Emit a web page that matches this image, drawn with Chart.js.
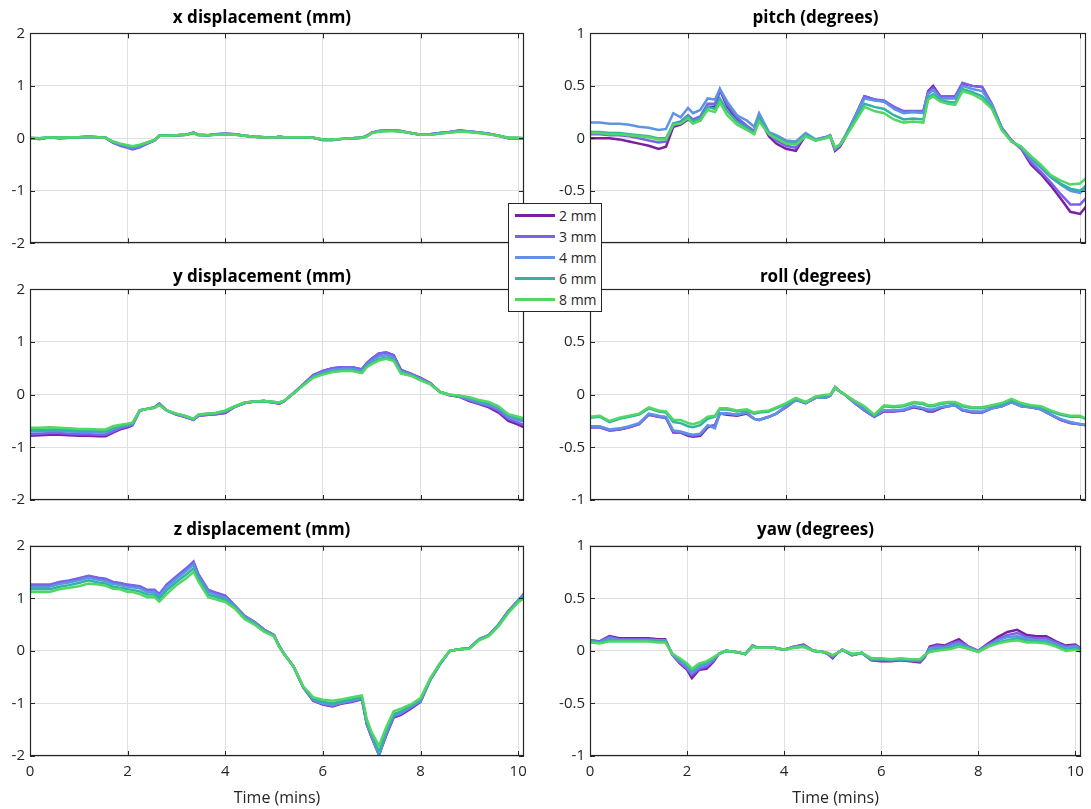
<!DOCTYPE html>
<html>
<head>
<meta charset="utf-8">
<script src="https://cdn.jsdelivr.net/npm/chart.js@4.4.1/dist/chart.umd.min.js"></script>
<style>
  html, body { margin: 0; padding: 0; background: #fff; }
  body { width: 1091px; height: 809px; position: relative; overflow: hidden; font-family: "Open Sans", sans-serif; }
  canvas { position: absolute; }
  #legend { position: absolute; left: 508px; top: 203px; width: 94px; height: 109px; box-sizing: border-box;
            border: 1px solid #262626; background: #fff; z-index: 5; padding-top: 1px; }
  #legend .row { position: relative; height: 21px; }
  #legend .sw { position: absolute; left: 6px; top: 9px; width: 40px; height: 2.5px; }
  #legend .tx { position: absolute; left: 50px; top: 0; line-height: 21px; font-size: 14px; color: #262626; white-space: nowrap; }
</style>
</head>
<body>
<canvas id="cX" width="540" height="260" style="left:0;top:0"></canvas>
<canvas id="cPitch" width="546" height="260" style="left:545px;top:0"></canvas>
<canvas id="cY" width="540" height="260" style="left:0;top:256px"></canvas>
<canvas id="cRoll" width="546" height="260" style="left:545px;top:256px"></canvas>
<canvas id="cZ" width="540" height="297" style="left:0;top:512px"></canvas>
<canvas id="cYaw" width="546" height="297" style="left:545px;top:512px"></canvas>
<div id="legend"></div>
<script>
// time axis (minutes)
const timeMins = [
  0, 0.2, 0.4, 0.6, 0.8, 1.0, 1.2, 1.4, 1.55, 1.7,
  1.85, 2.0, 2.1, 2.25, 2.4, 2.55, 2.65, 2.8, 3.0, 3.2,
  3.35, 3.45, 3.65, 3.8, 4.0, 4.2, 4.4, 4.6, 4.8, 4.9,
  5.0, 5.1, 5.2, 5.4, 5.6, 5.8, 6.0, 6.2, 6.4, 6.6,
  6.8, 6.9, 7.0, 7.15, 7.3, 7.45, 7.6, 7.8, 8.0, 8.2,
  8.4, 8.6, 8.8, 9.0, 9.2, 9.4, 9.6, 9.8, 10.0, 10.12
];
const seriesNames = ['2 mm', '3 mm', '4 mm', '6 mm', '8 mm'];
const seriesColors = ['#7b1fa2', '#7a62ea', '#5f93e4', '#2db4a3', '#52d765'];
const xTicks = [0, 2, 4, 6, 8, 10];
const mmTicks = [-2, -1, 0, 1, 2];
const degTicks = [-1, -0.5, 0, 0.5, 1];

// x displacement (mm)
const xDisp_2 = [
  0.00, -0.01, 0.02, 0.00, 0.01, 0.02, 0.03, 0.02, 0.01, -0.08,
  -0.13, -0.17, -0.20, -0.16, -0.10, -0.04, 0.05, 0.05, 0.06, 0.07,
  0.11, 0.07, 0.06, 0.08, 0.09, 0.08, 0.05, 0.03, 0.02, 0.01,
  0.01, 0.03, 0.02, 0.02, 0.02, 0.01, -0.03, -0.03, -0.01, 0.00,
  0.01, 0.05, 0.11, 0.14, 0.15, 0.15, 0.14, 0.10, 0.07, 0.08,
  0.10, 0.12, 0.15, 0.13, 0.11, 0.09, 0.05, 0.00, 0.00, -0.01];
const xDisp_3 = [
  0.00, -0.01, 0.02, 0.00, 0.01, 0.02, 0.03, 0.02, 0.01, -0.08,
  -0.14, -0.18, -0.21, -0.17, -0.10, -0.04, 0.05, 0.05, 0.06, 0.07,
  0.11, 0.07, 0.06, 0.08, 0.09, 0.08, 0.05, 0.03, 0.02, 0.01,
  0.01, 0.03, 0.02, 0.02, 0.02, 0.01, -0.03, -0.03, -0.01, 0.00,
  0.01, 0.05, 0.11, 0.14, 0.15, 0.15, 0.14, 0.10, 0.07, 0.08,
  0.10, 0.12, 0.15, 0.13, 0.11, 0.09, 0.05, 0.00, 0.00, -0.01];
const xDisp_4 = [
  0.00, 0.00, 0.02, 0.01, 0.01, 0.02, 0.03, 0.02, 0.01, -0.07,
  -0.12, -0.16, -0.18, -0.15, -0.09, -0.04, 0.05, 0.05, 0.06, 0.07,
  0.10, 0.07, 0.06, 0.08, 0.09, 0.08, 0.05, 0.03, 0.02, 0.01,
  0.01, 0.03, 0.02, 0.02, 0.02, 0.01, -0.02, -0.02, -0.01, 0.00,
  0.01, 0.05, 0.10, 0.14, 0.14, 0.15, 0.13, 0.10, 0.07, 0.08,
  0.10, 0.12, 0.14, 0.13, 0.11, 0.09, 0.05, 0.01, 0.00, -0.01];
const xDisp_6 = [
  0.01, 0.00, 0.02, 0.01, 0.02, 0.02, 0.03, 0.02, 0.01, -0.06,
  -0.11, -0.14, -0.16, -0.13, -0.08, -0.03, 0.05, 0.05, 0.06, 0.07,
  0.10, 0.06, 0.06, 0.07, 0.08, 0.07, 0.05, 0.03, 0.02, 0.01,
  0.01, 0.03, 0.02, 0.02, 0.02, 0.01, -0.02, -0.02, -0.01, 0.00,
  0.01, 0.04, 0.10, 0.13, 0.14, 0.14, 0.13, 0.10, 0.07, 0.07,
  0.09, 0.11, 0.13, 0.12, 0.10, 0.08, 0.05, 0.01, 0.01, 0.00];
const xDisp_8 = [
  0.01, 0.00, 0.02, 0.01, 0.02, 0.02, 0.03, 0.02, 0.01, -0.06,
  -0.10, -0.13, -0.15, -0.12, -0.08, -0.03, 0.05, 0.05, 0.06, 0.07,
  0.10, 0.06, 0.06, 0.07, 0.08, 0.07, 0.05, 0.03, 0.02, 0.01,
  0.01, 0.03, 0.02, 0.02, 0.02, 0.01, -0.02, -0.02, -0.01, 0.00,
  0.01, 0.04, 0.10, 0.13, 0.14, 0.14, 0.13, 0.10, 0.07, 0.07,
  0.09, 0.11, 0.13, 0.12, 0.10, 0.08, 0.05, 0.01, 0.01, 0.00];

// y displacement (mm)
const yDisp_2 = [
  -0.78, -0.77, -0.76, -0.76, -0.77, -0.78, -0.78, -0.79, -0.79, -0.72,
  -0.66, -0.62, -0.58, -0.30, -0.27, -0.24, -0.17, -0.30, -0.38, -0.43,
  -0.48, -0.40, -0.38, -0.37, -0.35, -0.23, -0.16, -0.13, -0.12, -0.14,
  -0.15, -0.17, -0.13, 0.03, 0.20, 0.37, 0.45, 0.50, 0.52, 0.52,
  0.48, 0.60, 0.68, 0.78, 0.80, 0.75, 0.47, 0.40, 0.32, 0.22,
  0.05, -0.01, -0.04, -0.12, -0.18, -0.24, -0.34, -0.50, -0.57, -0.62];
const yDisp_3 = [
  -0.75, -0.74, -0.73, -0.73, -0.74, -0.75, -0.75, -0.76, -0.76, -0.70,
  -0.64, -0.60, -0.57, -0.30, -0.27, -0.24, -0.17, -0.30, -0.38, -0.43,
  -0.48, -0.40, -0.38, -0.37, -0.34, -0.23, -0.16, -0.13, -0.12, -0.14,
  -0.15, -0.17, -0.13, 0.03, 0.20, 0.36, 0.45, 0.50, 0.52, 0.52,
  0.48, 0.60, 0.68, 0.78, 0.80, 0.75, 0.46, 0.40, 0.31, 0.21,
  0.05, -0.01, -0.04, -0.11, -0.17, -0.22, -0.31, -0.46, -0.53, -0.58];
const yDisp_4 = [
  -0.70, -0.70, -0.69, -0.69, -0.70, -0.71, -0.71, -0.72, -0.72, -0.66,
  -0.61, -0.58, -0.56, -0.30, -0.27, -0.25, -0.18, -0.30, -0.37, -0.42,
  -0.47, -0.39, -0.37, -0.36, -0.32, -0.23, -0.15, -0.13, -0.12, -0.13,
  -0.14, -0.16, -0.13, 0.03, 0.19, 0.35, 0.42, 0.47, 0.49, 0.49,
  0.45, 0.57, 0.64, 0.73, 0.75, 0.70, 0.44, 0.38, 0.30, 0.21,
  0.05, 0.00, -0.03, -0.09, -0.15, -0.19, -0.27, -0.42, -0.48, -0.51];
const yDisp_6 = [
  -0.67, -0.67, -0.66, -0.66, -0.67, -0.68, -0.68, -0.69, -0.69, -0.63,
  -0.59, -0.56, -0.54, -0.30, -0.27, -0.25, -0.19, -0.30, -0.36, -0.41,
  -0.46, -0.38, -0.36, -0.35, -0.31, -0.22, -0.15, -0.13, -0.12, -0.13,
  -0.14, -0.15, -0.12, 0.02, 0.18, 0.33, 0.40, 0.44, 0.46, 0.46,
  0.42, 0.54, 0.60, 0.68, 0.70, 0.66, 0.41, 0.37, 0.28, 0.20,
  0.05, 0.00, -0.02, -0.06, -0.12, -0.16, -0.24, -0.39, -0.44, -0.47];
const yDisp_8 = [
  -0.63, -0.63, -0.62, -0.63, -0.64, -0.65, -0.65, -0.66, -0.66, -0.60,
  -0.57, -0.55, -0.53, -0.30, -0.27, -0.25, -0.20, -0.30, -0.36, -0.41,
  -0.46, -0.38, -0.36, -0.35, -0.30, -0.22, -0.15, -0.13, -0.12, -0.13,
  -0.14, -0.15, -0.12, 0.02, 0.18, 0.32, 0.38, 0.43, 0.45, 0.45,
  0.41, 0.52, 0.58, 0.65, 0.68, 0.64, 0.40, 0.36, 0.27, 0.20,
  0.05, 0.00, -0.02, -0.05, -0.10, -0.14, -0.22, -0.37, -0.42, -0.45];

// z displacement (mm)
const zDisp_2 = [
  1.25, 1.25, 1.25, 1.30, 1.33, 1.37, 1.42, 1.38, 1.36, 1.30,
  1.28, 1.25, 1.24, 1.22, 1.15, 1.15, 1.07, 1.25, 1.40, 1.55,
  1.68, 1.45, 1.15, 1.10, 1.04, 0.85, 0.66, 0.55, 0.40, 0.35,
  0.30, 0.10, -0.05, -0.30, -0.70, -0.95, -1.02, -1.06, -1.00, -0.97,
  -0.92, -1.40, -1.65, -1.98, -1.60, -1.27, -1.22, -1.10, -0.97, -0.55,
  -0.25, 0.00, 0.03, 0.05, 0.22, 0.30, 0.50, 0.75, 0.95, 1.08];
const zDisp_3 = [
  1.26, 1.26, 1.26, 1.31, 1.34, 1.38, 1.43, 1.39, 1.37, 1.31,
  1.29, 1.26, 1.25, 1.23, 1.16, 1.16, 1.08, 1.26, 1.42, 1.57,
  1.70, 1.46, 1.16, 1.11, 1.05, 0.86, 0.66, 0.55, 0.40, 0.35,
  0.30, 0.10, -0.05, -0.30, -0.70, -0.94, -1.01, -1.05, -0.99, -0.96,
  -0.91, -1.40, -1.64, -1.97, -1.58, -1.25, -1.20, -1.08, -0.96, -0.55,
  -0.25, 0.00, 0.03, 0.05, 0.22, 0.30, 0.50, 0.76, 0.96, 1.09];
const zDisp_4 = [
  1.22, 1.22, 1.22, 1.27, 1.30, 1.34, 1.39, 1.35, 1.33, 1.27,
  1.25, 1.22, 1.21, 1.19, 1.12, 1.12, 1.04, 1.21, 1.37, 1.52,
  1.64, 1.41, 1.12, 1.07, 1.01, 0.84, 0.65, 0.54, 0.39, 0.34,
  0.29, 0.10, -0.05, -0.30, -0.70, -0.93, -1.00, -1.03, -0.98, -0.95,
  -0.90, -1.38, -1.62, -1.98, -1.56, -1.23, -1.18, -1.06, -0.95, -0.55,
  -0.25, 0.00, 0.03, 0.05, 0.22, 0.30, 0.50, 0.75, 0.95, 1.07];
const zDisp_6 = [
  1.17, 1.17, 1.17, 1.22, 1.25, 1.29, 1.34, 1.30, 1.28, 1.22,
  1.20, 1.17, 1.16, 1.13, 1.07, 1.07, 0.99, 1.15, 1.31, 1.45,
  1.57, 1.37, 1.07, 1.03, 0.97, 0.82, 0.62, 0.52, 0.37, 0.33,
  0.28, 0.09, -0.05, -0.30, -0.69, -0.91, -0.97, -1.00, -0.95, -0.92,
  -0.88, -1.35, -1.60, -1.92, -1.52, -1.20, -1.15, -1.04, -0.93, -0.54,
  -0.24, 0.00, 0.03, 0.05, 0.21, 0.29, 0.49, 0.74, 0.94, 1.05];
const zDisp_8 = [
  1.12, 1.12, 1.12, 1.17, 1.20, 1.23, 1.28, 1.26, 1.24, 1.18,
  1.17, 1.12, 1.12, 1.08, 1.02, 1.02, 0.94, 1.08, 1.25, 1.38,
  1.50, 1.32, 1.02, 0.98, 0.93, 0.80, 0.60, 0.50, 0.36, 0.32,
  0.28, 0.08, -0.05, -0.30, -0.68, -0.88, -0.93, -0.95, -0.92, -0.88,
  -0.85, -1.30, -1.55, -1.80, -1.45, -1.15, -1.10, -1.02, -0.90, -0.52,
  -0.23, 0.00, 0.03, 0.04, 0.20, 0.28, 0.47, 0.72, 0.92, 1.00];

// pitch (degrees)
const pitch_2 = [
  0.00, 0.00, 0.00, -0.01, -0.03, -0.05, -0.07, -0.10, -0.08, 0.11,
  0.13, 0.18, 0.15, 0.17, 0.30, 0.30, 0.46, 0.30, 0.18, 0.10,
  0.05, 0.20, 0.02, -0.05, -0.10, -0.12, 0.03, -0.02, 0.01, 0.02,
  -0.12, -0.08, 0.00, 0.20, 0.40, 0.37, 0.35, 0.30, 0.25, 0.25,
  0.25, 0.45, 0.50, 0.40, 0.40, 0.40, 0.52, 0.50, 0.49, 0.32,
  0.10, -0.02, -0.10, -0.25, -0.34, -0.45, -0.57, -0.70, -0.72, -0.65];
const pitch_3 = [
  0.04, 0.04, 0.03, 0.03, 0.02, 0.00, -0.02, -0.04, -0.03, 0.14,
  0.16, 0.22, 0.18, 0.21, 0.33, 0.33, 0.47, 0.32, 0.20, 0.12,
  0.07, 0.22, 0.04, -0.02, -0.07, -0.09, 0.04, -0.01, 0.01, 0.03,
  -0.11, -0.07, 0.01, 0.20, 0.40, 0.37, 0.36, 0.30, 0.26, 0.26,
  0.26, 0.44, 0.48, 0.40, 0.40, 0.40, 0.53, 0.50, 0.49, 0.33,
  0.10, -0.02, -0.10, -0.23, -0.32, -0.42, -0.53, -0.63, -0.63, -0.57];
const pitch_4 = [
  0.15, 0.15, 0.14, 0.14, 0.13, 0.11, 0.10, 0.08, 0.09, 0.24,
  0.20, 0.29, 0.24, 0.27, 0.38, 0.37, 0.47, 0.35, 0.22, 0.17,
  0.11, 0.24, 0.06, 0.03, -0.02, -0.03, 0.05, -0.01, 0.01, 0.03,
  -0.10, -0.06, 0.02, 0.20, 0.38, 0.36, 0.35, 0.28, 0.24, 0.25,
  0.24, 0.42, 0.46, 0.38, 0.38, 0.38, 0.50, 0.47, 0.45, 0.32,
  0.10, -0.03, -0.09, -0.20, -0.28, -0.37, -0.44, -0.50, -0.52, -0.47];
const pitch_6 = [
  0.06, 0.06, 0.05, 0.05, 0.04, 0.03, 0.02, 0.00, 0.00, 0.14,
  0.15, 0.21, 0.16, 0.19, 0.30, 0.28, 0.38, 0.26, 0.16, 0.10,
  0.05, 0.19, 0.05, 0.01, -0.04, -0.05, 0.03, -0.02, 0.00, 0.02,
  -0.09, -0.06, 0.01, 0.17, 0.33, 0.30, 0.28, 0.22, 0.18, 0.19,
  0.18, 0.39, 0.42, 0.36, 0.35, 0.34, 0.47, 0.44, 0.40, 0.30,
  0.09, -0.03, -0.08, -0.18, -0.26, -0.36, -0.43, -0.48, -0.50, -0.45];
const pitch_8 = [
  0.05, 0.05, 0.04, 0.04, 0.03, 0.02, 0.01, -0.01, -0.01, 0.13,
  0.14, 0.19, 0.14, 0.17, 0.27, 0.25, 0.34, 0.22, 0.13, 0.08,
  0.04, 0.16, 0.04, 0.00, -0.05, -0.06, 0.02, -0.02, 0.00, 0.02,
  -0.09, -0.06, 0.00, 0.15, 0.30, 0.26, 0.24, 0.18, 0.15, 0.16,
  0.15, 0.37, 0.40, 0.35, 0.33, 0.32, 0.45, 0.42, 0.37, 0.28,
  0.08, -0.03, -0.08, -0.17, -0.25, -0.35, -0.40, -0.44, -0.43, -0.38];

// roll (degrees)
const roll_2 = [
  -0.31, -0.31, -0.34, -0.33, -0.31, -0.28, -0.19, -0.21, -0.22, -0.36,
  -0.36, -0.39, -0.40, -0.39, -0.31, -0.29, -0.18, -0.19, -0.20, -0.18,
  -0.23, -0.24, -0.21, -0.18, -0.12, -0.05, -0.08, -0.03, -0.03, -0.01,
  0.07, 0.03, 0.00, -0.08, -0.15, -0.21, -0.16, -0.16, -0.15, -0.12,
  -0.14, -0.16, -0.16, -0.13, -0.11, -0.10, -0.15, -0.17, -0.17, -0.13,
  -0.11, -0.07, -0.11, -0.12, -0.14, -0.19, -0.24, -0.27, -0.28, -0.29];
const roll_3 = [
  -0.31, -0.31, -0.34, -0.33, -0.31, -0.28, -0.19, -0.21, -0.22, -0.35,
  -0.36, -0.38, -0.39, -0.38, -0.30, -0.29, -0.18, -0.18, -0.19, -0.17,
  -0.23, -0.24, -0.21, -0.18, -0.11, -0.05, -0.08, -0.03, -0.03, -0.01,
  0.07, 0.03, 0.00, -0.08, -0.15, -0.21, -0.15, -0.15, -0.15, -0.11,
  -0.13, -0.15, -0.15, -0.12, -0.11, -0.10, -0.15, -0.16, -0.17, -0.13,
  -0.11, -0.07, -0.11, -0.12, -0.14, -0.19, -0.24, -0.27, -0.28, -0.29];
const roll_4 = [
  -0.30, -0.30, -0.33, -0.32, -0.30, -0.27, -0.18, -0.20, -0.21, -0.34,
  -0.35, -0.37, -0.38, -0.37, -0.29, -0.32, -0.18, -0.18, -0.19, -0.17,
  -0.23, -0.24, -0.21, -0.18, -0.11, -0.05, -0.08, -0.03, -0.03, -0.01,
  0.06, 0.03, 0.00, -0.08, -0.14, -0.20, -0.15, -0.15, -0.14, -0.11,
  -0.13, -0.14, -0.14, -0.12, -0.11, -0.10, -0.14, -0.16, -0.16, -0.13,
  -0.11, -0.07, -0.11, -0.12, -0.14, -0.19, -0.23, -0.26, -0.28, -0.29];
const roll_6 = [
  -0.22, -0.21, -0.26, -0.23, -0.21, -0.19, -0.13, -0.16, -0.17, -0.26,
  -0.27, -0.30, -0.31, -0.29, -0.23, -0.21, -0.14, -0.14, -0.16, -0.15,
  -0.18, -0.17, -0.16, -0.13, -0.09, -0.04, -0.07, -0.02, -0.01, 0.00,
  0.07, 0.03, 0.00, -0.06, -0.12, -0.20, -0.11, -0.12, -0.11, -0.08,
  -0.09, -0.11, -0.11, -0.09, -0.08, -0.08, -0.11, -0.13, -0.13, -0.11,
  -0.09, -0.05, -0.09, -0.11, -0.12, -0.16, -0.19, -0.21, -0.21, -0.23];
const roll_8 = [
  -0.21, -0.20, -0.25, -0.22, -0.20, -0.18, -0.12, -0.15, -0.16, -0.24,
  -0.24, -0.27, -0.28, -0.26, -0.21, -0.20, -0.13, -0.13, -0.15, -0.14,
  -0.17, -0.16, -0.15, -0.12, -0.08, -0.03, -0.07, -0.02, 0.00, 0.00,
  0.07, 0.03, 0.00, -0.06, -0.11, -0.19, -0.10, -0.11, -0.10, -0.07,
  -0.08, -0.10, -0.10, -0.08, -0.07, -0.07, -0.10, -0.12, -0.12, -0.10,
  -0.08, -0.04, -0.08, -0.10, -0.11, -0.15, -0.18, -0.20, -0.20, -0.23];

// yaw (degrees)
const yaw_2 = [
  0.10, 0.09, 0.14, 0.12, 0.12, 0.12, 0.12, 0.11, 0.11, -0.04,
  -0.12, -0.18, -0.26, -0.18, -0.17, -0.10, -0.03, 0.00, -0.01, -0.03,
  0.05, 0.03, 0.03, 0.03, 0.01, 0.04, 0.06, 0.00, -0.01, -0.03,
  -0.07, -0.02, 0.01, -0.04, -0.02, -0.09, -0.10, -0.10, -0.09, -0.10,
  -0.11, -0.06, 0.04, 0.06, 0.05, 0.08, 0.11, 0.04, 0.00, 0.07,
  0.13, 0.18, 0.20, 0.15, 0.14, 0.14, 0.09, 0.05, 0.06, 0.02];
const yaw_3 = [
  0.10, 0.09, 0.13, 0.11, 0.11, 0.11, 0.11, 0.10, 0.10, -0.04,
  -0.11, -0.17, -0.23, -0.17, -0.15, -0.09, -0.03, 0.00, -0.01, -0.03,
  0.05, 0.03, 0.03, 0.03, 0.01, 0.04, 0.05, 0.00, -0.01, -0.03,
  -0.06, -0.02, 0.01, -0.04, -0.02, -0.09, -0.09, -0.09, -0.09, -0.09,
  -0.10, -0.05, 0.03, 0.05, 0.04, 0.07, 0.09, 0.04, 0.00, 0.06,
  0.11, 0.15, 0.17, 0.13, 0.12, 0.12, 0.08, 0.04, 0.05, 0.02];
const yaw_4 = [
  0.09, 0.08, 0.12, 0.10, 0.10, 0.10, 0.10, 0.10, 0.10, -0.04,
  -0.10, -0.15, -0.21, -0.15, -0.13, -0.08, -0.03, 0.00, -0.01, -0.03,
  0.05, 0.03, 0.03, 0.03, 0.01, 0.04, 0.05, 0.00, -0.01, -0.03,
  -0.05, -0.02, 0.01, -0.04, -0.02, -0.08, -0.08, -0.09, -0.08, -0.09,
  -0.09, -0.05, 0.02, 0.03, 0.03, 0.05, 0.07, 0.03, 0.00, 0.05,
  0.10, 0.13, 0.14, 0.11, 0.10, 0.10, 0.06, 0.03, 0.04, 0.01];
const yaw_6 = [
  0.09, 0.08, 0.10, 0.10, 0.10, 0.10, 0.10, 0.09, 0.09, -0.03,
  -0.08, -0.13, -0.19, -0.13, -0.11, -0.07, -0.03, 0.00, -0.01, -0.03,
  0.04, 0.03, 0.03, 0.03, 0.01, 0.03, 0.04, 0.00, -0.01, -0.02,
  -0.05, -0.02, 0.01, -0.03, -0.02, -0.08, -0.08, -0.08, -0.08, -0.08,
  -0.09, -0.04, 0.00, 0.01, 0.02, 0.03, 0.05, 0.02, -0.01, 0.04,
  0.08, 0.10, 0.12, 0.10, 0.09, 0.08, 0.05, 0.01, 0.02, 0.00];
const yaw_8 = [
  0.08, 0.07, 0.09, 0.09, 0.09, 0.09, 0.09, 0.08, 0.08, -0.03,
  -0.07, -0.12, -0.17, -0.12, -0.10, -0.06, -0.03, 0.00, -0.01, -0.03,
  0.04, 0.03, 0.03, 0.03, 0.01, 0.03, 0.04, 0.00, -0.01, -0.02,
  -0.04, -0.02, 0.01, -0.03, -0.02, -0.07, -0.07, -0.08, -0.07, -0.08,
  -0.08, -0.04, -0.01, 0.00, 0.01, 0.02, 0.04, 0.02, -0.01, 0.04,
  0.07, 0.09, 0.10, 0.08, 0.08, 0.07, 0.04, 0.00, 0.01, -0.01];

const TICK_COLOR = '#262626';
const GRID_COLOR = '#dfdfdf';
const FONT = '"Open Sans", "Noto Sans", sans-serif';

// MATLAB-style box with inward tick marks
const boxPlugin = {
  id: 'axesBox',
  afterDatasetsDraw(chart) {
    const { ctx, chartArea: a, scales } = chart;
    ctx.save();
    ctx.strokeStyle = TICK_COLOR;
    ctx.lineWidth = 1;
    ctx.beginPath();
    scales.x.ticks.forEach(t => {
      const px = Math.round(scales.x.getPixelForValue(t.value)) + 0.5;
      ctx.moveTo(px, a.top); ctx.lineTo(px, a.top + 5);
      ctx.moveTo(px, a.bottom); ctx.lineTo(px, a.bottom - 5);
    });
    scales.y.ticks.forEach(t => {
      const py = Math.round(scales.y.getPixelForValue(t.value)) + 0.5;
      ctx.moveTo(a.left, py); ctx.lineTo(a.left + 5, py);
      ctx.moveTo(a.right, py); ctx.lineTo(a.right - 5, py);
    });
    ctx.stroke();
    ctx.lineWidth = 1.2;
    ctx.strokeRect(Math.round(a.left) + 0.5, Math.round(a.top) + 0.5,
                   Math.round(a.width) - 1, Math.round(a.height) - 1);
    ctx.restore();
  }
};

function makePanel(id, title, series, yTicks, col, row) {
  const yw = col === 0 ? 30 : 45;
  const padRight = col === 0 ? 16 : 5;
  const titlePad = [{ top: 8, bottom: 5 }, { top: 10.5, bottom: 2.4 }, { top: 7.8, bottom: 5.5 }][row];
  const xh = [16.7, 16, 53][row];
  const bottomRow = row === 2;

  const datasets = series.map((arr, i) => ({
    label: seriesNames[i],
    data: timeMins.map((t, k) => ({ x: t, y: arr[k] })),
    borderColor: seriesColors[i],
    backgroundColor: seriesColors[i],
    borderWidth: 2.5,
    pointRadius: 0,
    tension: 0,
    order: seriesNames.length - i
  }));

  return new Chart(document.getElementById(id), {
    type: 'line',
    data: { datasets },
    options: {
      responsive: false,
      animation: false,
      events: [],
      layout: { padding: { left: 0, right: padRight, top: 0, bottom: 0 } },
      plugins: {
        legend: { display: false },
        tooltip: { enabled: false },
        title: {
          display: true, text: title, color: '#000',
          font: { family: FONT, size: 17, weight: 'bold', lineHeight: 1.2 },
          padding: titlePad
        }
      },
      scales: {
        x: {
          type: 'linear', min: 0, max: 10.12,
          afterBuildTicks: s => { s.ticks = xTicks.map(v => ({ value: v })); },
          afterFit: s => { s.height = xh; },
          grid: { color: GRID_COLOR, drawTicks: false },
          border: { display: false },
          ticks: {
            display: bottomRow, color: TICK_COLOR, padding: 7, maxRotation: 0,
            font: { family: FONT, size: 15 }
          },
          title: {
            display: bottomRow, text: 'Time (mins)', color: TICK_COLOR,
            font: { family: FONT, size: 16 }, padding: { top: 0, bottom: 1 }
          }
        },
        y: {
          type: 'linear', min: yTicks[0], max: yTicks[yTicks.length - 1],
          afterBuildTicks: s => { s.ticks = yTicks.map(v => ({ value: v })); },
          afterFit: s => { s.width = yw; },
          grid: { color: GRID_COLOR, drawTicks: false },
          border: { display: false },
          ticks: {
            color: TICK_COLOR, padding: 5,
            font: { family: FONT, size: 15 },
            callback: v => String(v)
          }
        }
      }
    },
    plugins: [boxPlugin]
  });
}

makePanel('cX', 'x displacement (mm)', [xDisp_2, xDisp_3, xDisp_4, xDisp_6, xDisp_8], mmTicks, 0, 0);
makePanel('cY', 'y displacement (mm)', [yDisp_2, yDisp_3, yDisp_4, yDisp_6, yDisp_8], mmTicks, 0, 1);
makePanel('cZ', 'z displacement (mm)', [zDisp_2, zDisp_3, zDisp_4, zDisp_6, zDisp_8], mmTicks, 0, 2);
const pitchChart = makePanel('cPitch', 'pitch (degrees)', [pitch_2, pitch_3, pitch_4, pitch_6, pitch_8], degTicks, 1, 0);
makePanel('cRoll', 'roll (degrees)', [roll_2, roll_3, roll_4, roll_6, roll_8], degTicks, 1, 1);
makePanel('cYaw', 'yaw (degrees)', [yaw_2, yaw_3, yaw_4, yaw_6, yaw_8], degTicks, 1, 2);

// shared legend, built from one chart's datasets
const legendEl = document.getElementById('legend');
pitchChart.data.datasets.forEach(ds => {
  const row = document.createElement('div');
  row.className = 'row';
  const sw = document.createElement('div');
  sw.className = 'sw';
  sw.style.background = ds.borderColor;
  const tx = document.createElement('div');
  tx.className = 'tx';
  tx.textContent = ds.label;
  row.appendChild(sw);
  row.appendChild(tx);
  legendEl.appendChild(row);
});
</script>
</body>
</html>
